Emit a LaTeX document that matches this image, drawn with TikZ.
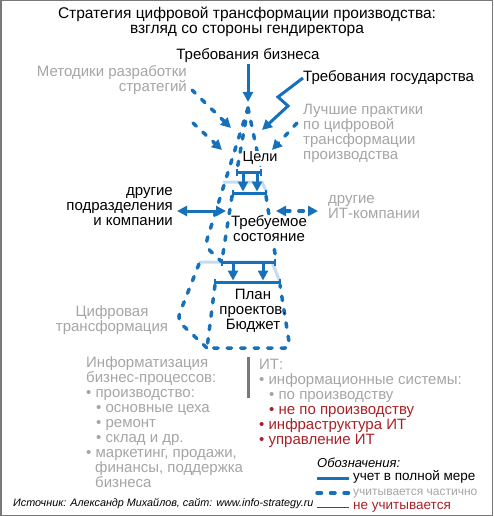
\documentclass[tikz,border=0pt]{standalone}
\usepackage{fontspec}
\setmainfont{Liberation Sans}
\usetikzlibrary{arrows.meta,positioning}
\definecolor{sblue}{RGB}{22,112,186}
\definecolor{spale}{RGB}{196,220,242}
\definecolor{sgrey}{RGB}{165,165,165}
\definecolor{sred}{RGB}{170,32,38}
\definecolor{sframe}{RGB}{120,120,120}
\newcommand{\StratSize}{\fontsize{15}{15}\selectfont}
\newcommand{\StratSmall}{\fontsize{13.5}{14.5}\selectfont}
\tikzset{
	txt/.style={inner sep=0pt, font=\StratSize, execute at begin node=\strut},
	full/.style={draw=sblue, line width=3pt},
	part/.style={draw=sblue, line width=3.5pt, line cap=round, dash pattern=on 4.5pt off 9pt},
	pale/.style={draw=spale, line width=3pt},
	tip/.style={-{Triangle[length=10pt,width=10pt]}},
	tips/.style={{Triangle[length=10pt,width=10pt]}-{Triangle[length=10pt,width=10pt]}},
	bar/.style={full, {Bar[width=7pt,line width=2pt]}-{Bar[width=7pt,line width=2pt]}},
}
\begin{document}
\begin{tikzpicture}[x=1pt,y=-1pt]
	\useasboundingbox (0,0) rectangle (493,516);
	\draw[sframe, line width=1.5pt] (0.75,0.75) rectangle (492.25,515.25);
	\node[txt, anchor=north, align=center, font=\fontsize{15.5}{15}\selectfont] (title) at (247,7) {Стратегия цифровой трансформации производства:\\взгляд со стороны гендиректора};
	\node[txt, anchor=north] (biz) at (248,48) {Требования бизнеса};
	\node[txt, anchor=north east, align=right, sgrey] (meth) at (187,65) {Методики разработки\\стратегий};
	\node[txt, anchor=north west] (gov) at (303,70) {Требования государства};
	\node[txt, anchor=north west, align=left, sgrey] (best) at (303,104) {Лучшие практики\\по цифровой\\трансформации\\производства};
	\node[txt, anchor=north east, align=right] (dept) at (173,187) {другие\\подразделения\\и компании};
	\node[txt, anchor=north west, align=left, sgrey] (itco) at (328,195) {другие\\ИТ-компании};
	\node[txt, anchor=north, align=center, sgrey] (digi) at (112,305) {Цифровая\\трансформация};

	\coordinate (apex) at (248,108);
	\coordinate (g1) at (237,170);
	\coordinate (g2) at (261,170);
	\coordinate (s1) at (232,196);
	\coordinate (s2) at (266,196);
	\coordinate (s3) at (222,260);
	\coordinate (s4) at (276,260);
	\coordinate (p1) at (215,285);
	\coordinate (p2) at (280,285);

	\draw[pale] (223,182) -- (262,182) -- (267,193);
	\draw[pale] (199,262) -- (272,262) -- (280,282);
	\draw[part] (apex) -- (g1);
	\draw[part] (apex) -- (g2);
	\draw[part, rounded corners=7pt] (apex) -- (205,246) -- (222,262);
	\draw[part] (s1) -- (s3);
	\draw[part] (s2) -- (s4);
	\draw[part, rounded corners=5pt] (p1) -- (207,348) -- (290,348) -- (p2);
	\draw[part, rounded corners=7pt] (199,264) -- (177,320) -- (207,348);

	\draw[bar] (236,172) -- (262,172);
	\draw[bar] (232,193) -- (267,193);
	\draw[bar] (221,262) -- (276,262);
	\draw[bar] (214,282) -- (281,282);
	\draw[full, tip] (243,173) -- (243,191.5);
	\draw[full, tip] (257,173) -- (257,191.5);
	\draw[full, tip] (233,263) -- (233,280.5);
	\draw[full, tip] (263,263) -- (263,280.5);

	\node[txt, fill=white, font=\fontsize{14.5}{15}\selectfont] (goals) at (260,158) {Цели};
	\node[txt, anchor=north, align=center, fill=white] (state) at (269,215) {Требуемое\\состояние};
	\node[txt, anchor=north, align=center] (plan) at (253,289) {План\\проектов.\\Бюджет};

	\coordinate (bizTip) at (248,102);
	\coordinate (govTip) at (262,130);
	\coordinate (m1) at (192,90);
	\coordinate (m1Tip) at (231,128);
	\coordinate (m2) at (193,123);
	\coordinate (m2Tip) at (222,150);
	\coordinate (b1) at (297,123);
	\coordinate (b1Tip) at (272,150);
	\coordinate (d1) at (177,211);
	\coordinate (d2) at (226,211);
	\coordinate (i1) at (276,211);
	\coordinate (i2) at (318,211);
	\draw[full, tip] (biz) -- (bizTip);
	\draw[full, tip] (gov.west) -- ++(-25,19) -- ++(10,9) -- (govTip);
	\draw[part, tip] (m1) -- (m1Tip);
	\draw[part, tip] (m2) -- (m2Tip);
	\draw[part, tip] (b1) -- (b1Tip);
	\draw[full, tips] (d1) -- (d2);
	\draw[part, tips] (i1) -- (i2);

	\node[txt, anchor=north west, align=left, sgrey] (infa) at (86,356) {Информатизация\\бизнес-процессов:\\•~производство:\\\hspace*{10pt}•~основные цеха\\\hspace*{10pt}•~ремонт\\\hspace*{10pt}•~склад и др.\\•~маркетинг, продажи,\\\hspace*{9pt}финансы, поддержка\\\hspace*{9pt}бизнеса};
	\draw[line width=3pt, sframe] (248,357) -- (248,398);
	\node[txt, anchor=north west, align=left, sgrey] (itb) at (259,359) {ИТ:\\•~информационные системы:\\\hspace*{10pt}•~по производству\\\hspace*{10pt}\textcolor{sred}{•~не по производству}\\\textcolor{sred}{•~инфраструктура ИТ}\\\textcolor{sred}{•~управление ИТ}};

	\node[txt, anchor=north west, font=\itshape\fontsize{13}{14.5}\selectfont] (leg) at (317,457) {Обозначения:};
	\coordinate (l1a) at (317,478);
	\coordinate (l1b) at (349,478);
	\coordinate (l2a) at (317,493);
	\coordinate (l2b) at (349,493);
	\coordinate (l3a) at (317,507);
	\coordinate (l3b) at (349,507);
	\draw[full] (l1a) -- (l1b);
	\draw[part] (l2a) -- (l2b);
	\draw[sred, line width=1pt] (l3a) -- (l3b);
	\node[txt, font=\StratSmall, right=4pt of l1b] (leg1) {учет в полной мере};
	\node[txt, font=\fontsize{12}{14.5}\selectfont, sgrey, right=4pt of l2b] (leg2) {учитывается частично};
	\node[txt, font=\StratSmall, sred, right=4pt of l3b] (leg3) {не учитывается};
	\node[txt, anchor=west, font=\itshape\fontsize{10.8}{13}\selectfont] (src) at (13,504) {Источник: Александр Михайлов, сайт: www.info-strategy.ru};
\end{tikzpicture}
\end{document}
